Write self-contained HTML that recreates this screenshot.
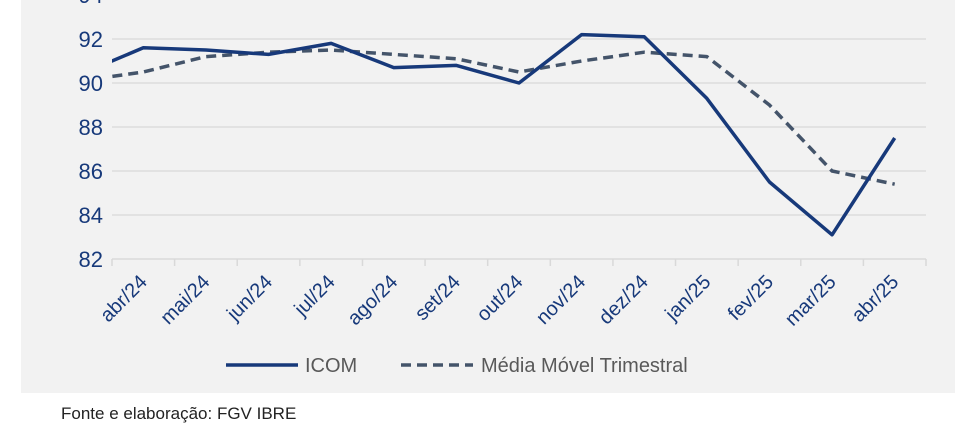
<!DOCTYPE html>
<html><head><meta charset="utf-8"><style>
body{margin:0;background:#fff;width:971px;height:439px;overflow:hidden;font-family:"Liberation Sans",sans-serif}
</style></head><body>
<svg width="971" height="439" style="position:absolute;left:0;top:0">
<rect x="21" y="0" width="934" height="393" fill="#f2f2f2"/>
<g id="grid"></g><g id="ylab"></g><g id="xax"></g><g id="lines"></g>
<g>
<line x1="226" y1="365" x2="298" y2="365" stroke="#17397a" stroke-width="3.5"/>
<text x="305" y="372" font-size="20" fill="#595959">ICOM</text>
<line x1="401" y1="365" x2="473" y2="365" stroke="#44546a" stroke-width="3.5" stroke-dasharray="10,6"/>
<text x="481" y="372" font-size="20" fill="#595959">Média Móvel Trimestral</text>
</g>
<text x="61" y="419" font-size="17" fill="#222">Fonte e elaboração: FGV IBRE</text>
</svg>
<script>
const categories=["abr/24","mai/24","jun/24","jul/24","ago/24","set/24","out/24","nov/24","dez/24","jan/25","fev/25","mar/25","abr/25"];
const icom=[91.6,91.5,91.3,91.8,90.7,90.8,90.0,92.2,92.1,89.3,85.5,83.1,87.5];
const icomPrev=90.4;
const movingAvg=[90.5,91.2,91.4,91.5,91.3,91.1,90.5,91.0,91.4,91.2,89.0,86.0,85.4];
const movingAvgPrev=90.1;
const yTicks=[82,84,86,88,90,92,94];
const NS="http://www.w3.org/2000/svg";
const x0=112,x1=926,step=(x1-x0)/categories.length;
const X=i=>x0+step*(i+0.5);
const Y=v=>259-(v-82)*22;
function mk(t,a,p){const e=document.createElementNS(NS,t);for(const k in a)e.setAttribute(k,a[k]);document.getElementById(p).appendChild(e);return e;}
yTicks.forEach(v=>{
 if(v>82&&v<94){const g=mk('line',{x1:x0,x2:x1,y1:Y(v),y2:Y(v),stroke:'#d9d9d9','stroke-width':1.3},'grid');
 
 }
 const t=mk('text',{x:103,y:Y(v)+8,'font-size':22,fill:'#17397a','text-anchor':'end'},'ylab');t.textContent=v;
 
 
});
const ax=mk('line',{x1:x0,x2:x1,y1:259,y2:259,stroke:'#d9d9d9','stroke-width':1.5},'xax');


for(let i=0;i<=categories.length;i++){const tk=mk('line',{x1:x0+step*i,x2:x0+step*i,y1:259,y2:266,stroke:'#d9d9d9','stroke-width':1.5},'xax');
 
 }
categories.forEach((c,i)=>{const cx=X(i)+5,cy=283;const t=mk('text',{x:cx,y:cy,'font-size':20,fill:'#17397a','text-anchor':'end',transform:`rotate(-45 ${cx} ${cy})`},'xax');t.textContent=c;
 
 });
const clip=mk('clipPath',{id:'pc'},'lines');mk('rect',{x:x0,y:0,width:x1-x0,height:300},'pc');
function series(vals,prev,attrs,name){
 let d=`M${X(-1)},${Y(prev)}`;vals.forEach((v,i)=>d+=` L${X(i)},${Y(v)}`);
 const p=mk('path',Object.assign({d:d,fill:'none','clip-path':'url(#pc)','stroke-linejoin':'round'},attrs),'lines');
 
 
}
series(movingAvg,movingAvgPrev,{stroke:'#44546a','stroke-width':3.5,'stroke-dasharray':'10,6'},'moving-average-line');
series(icom,icomPrev,{stroke:'#17397a','stroke-width':3.5},'icom-line');
</script>
</body></html>
